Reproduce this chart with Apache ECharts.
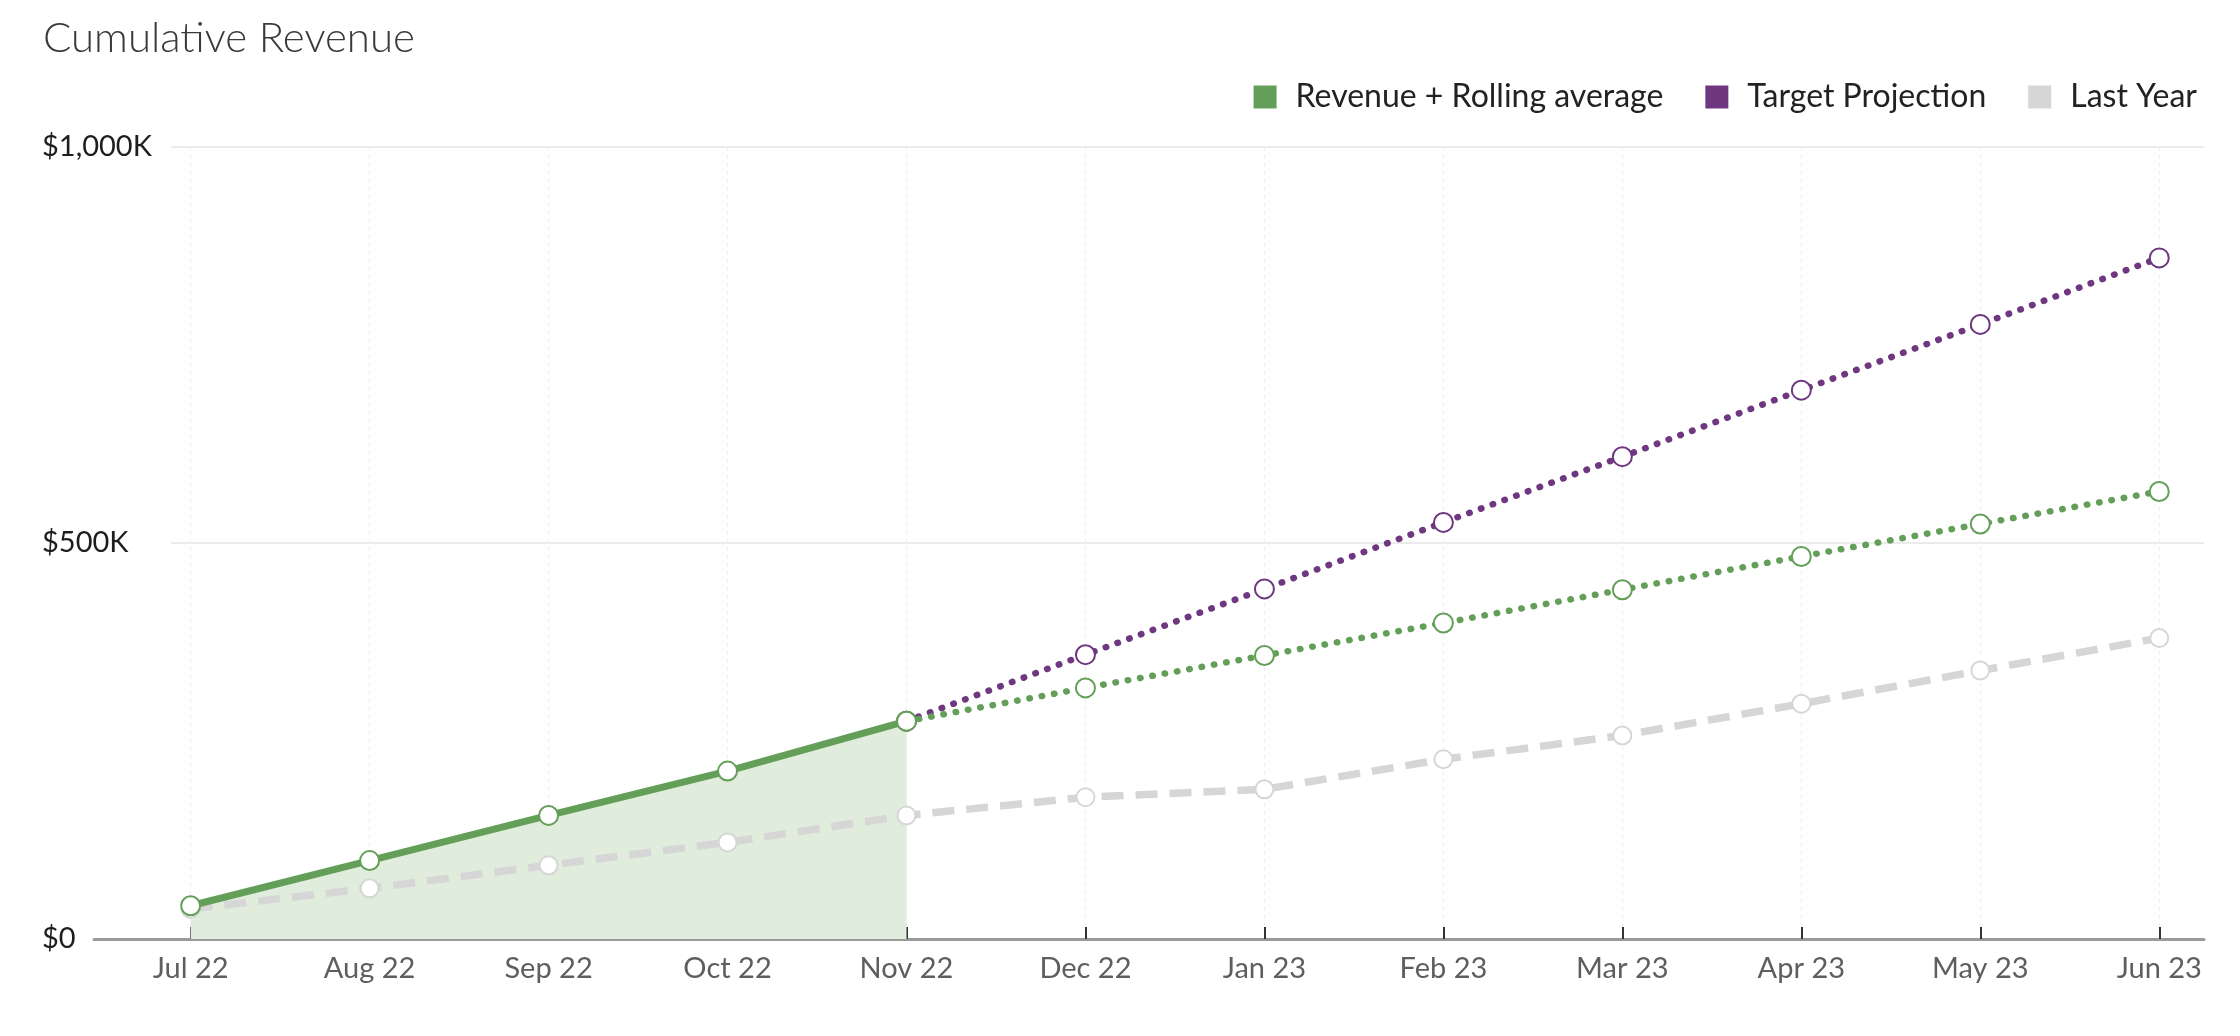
<!DOCTYPE html>
<html>
<head>
<meta charset="utf-8">
<script src="https://cdn.jsdelivr.net/npm/echarts@6/dist/echarts.min.js"></script>
<style>
  html, body { margin: 0; padding: 0; background: #fff; }
  #chart { width: 2240px; height: 1036px; }
</style>
</head>
<body>
<div id="chart"></div>
<script>
// values in $K
const months = ['Jul 22', 'Aug 22', 'Sep 22', 'Oct 22', 'Nov 22', 'Dec 22',
                'Jan 23', 'Feb 23', 'Mar 23', 'Apr 23', 'May 23', 'Jun 23'];
const revenue = [42, 99, 156, 212, 275];                          // Jul - Nov actual
const rollingAverage = [275, 317, 358, 399, 441, 483, 524, 565];  // Nov - Jun
const targetProjection = [275, 359, 442, 526, 609, 693, 776, 860]; // Nov - Jun
const lastYear = [38, 64, 93, 122, 156, 179, 189, 227, 257, 297, 339, 380];
const yTicks = [0, 500, 1000];

const green = '#649f59';
const purple = '#6e3780';
const grey = '#d6d6d6';
const font = 'Lato';

document.addEventListener('DOMContentLoaded', function () {
    const chart = echarts.init(document.getElementById('chart'));

    const startIdx = months.length - rollingAverage.length;
    const pairs = (vals, offset) => vals.map((v, i) => [i + offset, v]);
    const monthIdx = months.map((m, i) => i);

    const dotted = [0.5, 12];

    let option = {
        animation: false,
        title: {
            text: 'Cumulative Revenue',
            left: 38,
            top: 12,
            textStyle: { fontFamily: font, fontWeight: 300, fontSize: 42, color: '#3a3a3a' }
        },
        legend: {
            right: 38,
            top: 76,
            icon: 'rect',
            itemWidth: 23,
            itemHeight: 23,
            itemGap: 42,
            textStyle: { fontFamily: font, fontSize: 32, color: '#222', padding: [0, 0, 0, 14] },
            data: [
                { name: 'Revenue + Rolling average', itemStyle: { color: green, borderWidth: 0 } },
                { name: 'Target Projection', itemStyle: { color: purple, borderWidth: 0 } },
                { name: 'Last Year', itemStyle: { color: grey, borderWidth: 0 } }
            ]
        },
        grid: [
            { left: 94, right: 36, top: 147, bottom: 97 },
            { left: 171, right: 36, top: 147, bottom: 97 }
        ],
        xAxis: [
            {
                type: 'value',
                gridIndex: 0,
                min: -0.54,
                max: 11.25,
                axisLine: { show: true, lineStyle: { color: '#9a9a9a', width: 3 } },
                axisTick: {
                    show: true, inside: true, length: 12, customValues: monthIdx,
                    lineStyle: { color: '#333', width: 2 }
                },
                axisLabel: {
                    customValues: monthIdx,
                    formatter: v => months[v],
                    margin: 15,
                    fontFamily: font, fontSize: 29, color: '#5e5e5e'
                },
                splitLine: { show: true, lineStyle: { color: '#ededed', width: 1, type: [4, 4] } }
            },
            { type: 'value', gridIndex: 1, min: 0, max: 1, show: false }
        ],
        yAxis: [
            { type: 'value', gridIndex: 0, min: 0, max: 1000, interval: 500, show: false },
            {
                type: 'value',
                gridIndex: 1,
                min: 0,
                max: 1000,
                interval: 500,
                axisLine: { show: false },
                axisTick: { show: false },
                axisLabel: {
                    align: 'left',
                    margin: 129,
                    fontFamily: font, fontSize: 29, color: '#1e1e1e',
                    formatter: v => yTicks.includes(v) ? (v === 0 ? '$0' : '$' + v.toLocaleString('en-US') + 'K') : ''
                },
                splitLine: { show: true, lineStyle: { color: '#ebebeb', width: 2 } }
            }
        ],
        series: [
            {
                // area under the actual revenue, kept below the other lines
                name: 'Revenue + Rolling average',
                type: 'line',
                xAxisIndex: 0, yAxisIndex: 0,
                data: pairs(revenue, 0),
                showSymbol: false,
                lineStyle: { width: 0 },
                itemStyle: { color: green },
                areaStyle: { color: '#e0ecdc', opacity: 1 },
                silent: true,
                z: 1
            },
            {
                name: 'Last Year',
                type: 'line',
                xAxisIndex: 0, yAxisIndex: 0,
                data: pairs(lastYear, 0),
                symbol: 'emptyCircle',
                symbolSize: 18,
                itemStyle: { color: grey, borderWidth: 4 },
                lineStyle: { color: grey, width: 7.5, type: [22, 12] },
                z: 2
            },
            {
                name: 'Target Projection',
                type: 'line',
                xAxisIndex: 0, yAxisIndex: 0,
                data: pairs(targetProjection, startIdx),
                symbol: 'emptyCircle',
                symbolSize: 19,
                itemStyle: { color: purple, borderWidth: 4 },
                lineStyle: { color: purple, width: 6.5, type: dotted, cap: 'round' },
                z: 3
            },
            {
                name: 'Revenue + Rolling average',
                type: 'line',
                xAxisIndex: 0, yAxisIndex: 0,
                data: pairs(rollingAverage, startIdx),
                symbol: 'emptyCircle',
                symbolSize: 19,
                itemStyle: { color: green, borderWidth: 4 },
                lineStyle: { color: green, width: 6.5, type: dotted, cap: 'round' },
                z: 4
            },
            {
                name: 'Revenue + Rolling average',
                type: 'line',
                xAxisIndex: 0, yAxisIndex: 0,
                data: pairs(revenue, 0),
                symbol: 'emptyCircle',
                symbolSize: 19,
                itemStyle: { color: green, borderWidth: 4 },
                lineStyle: { color: green, width: 7 },
                z: 5
            }
        ]
    };

    chart.setOption(option);

    window.addEventListener('resize', () => {
        chart.resize();
    });
});
</script>
</body>
</html>
